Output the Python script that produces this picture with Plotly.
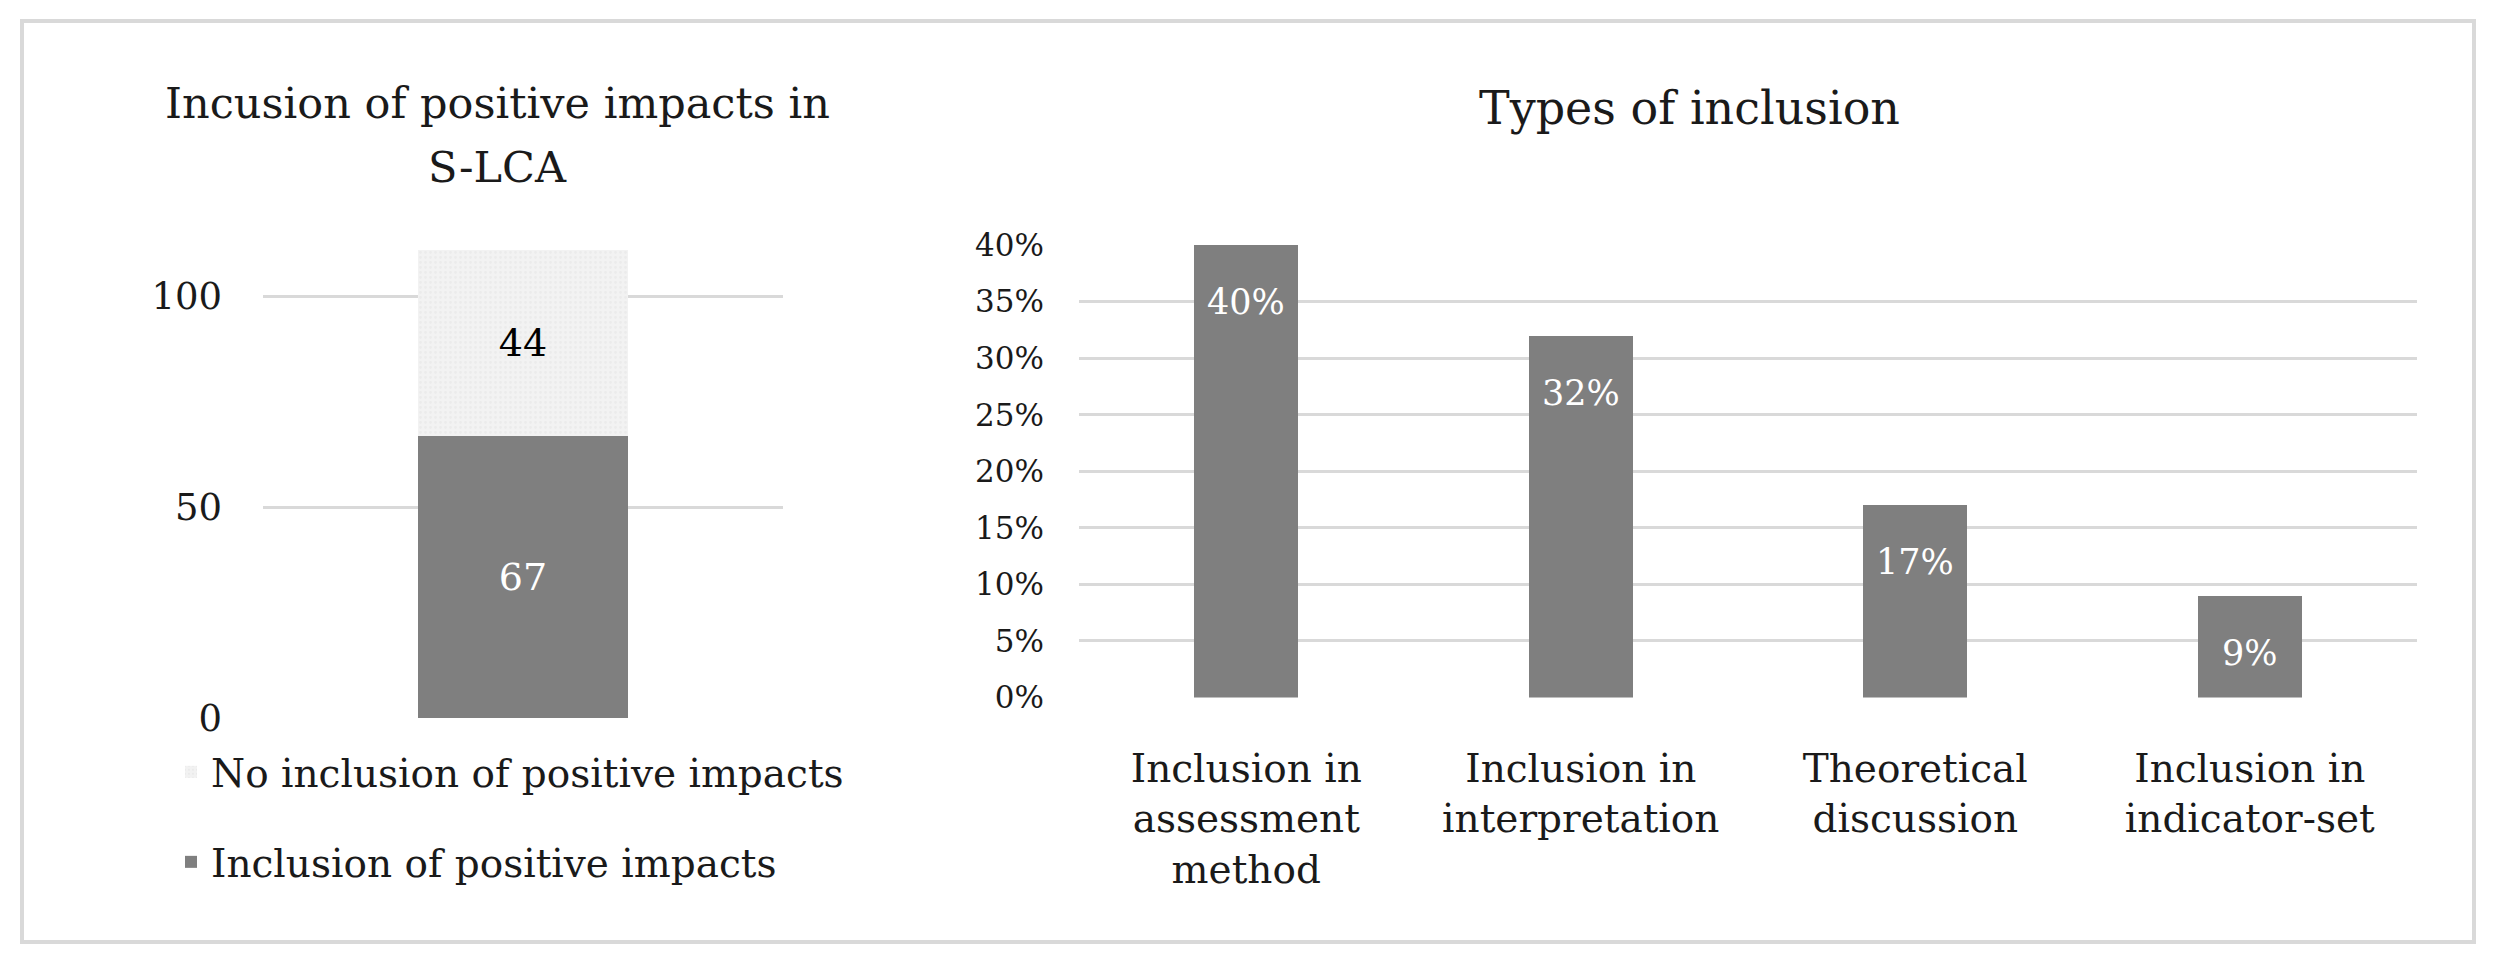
import plotly.graph_objects as go

# ---------------- data ----------------
left_title_lines = ["Incusion of positive impacts in", "S-LCA"]
left_category = ["S-LCA"]
included_values = [67]
not_included_values = [44]
left_series_names = ["Inclusion of positive impacts", "No inclusion of positive impacts"]
left_yticks = [0, 50, 100]

right_title = "Types of inclusion"
type_categories = [
    "Inclusion in assessment method",
    "Inclusion in interpretation",
    "Theoretical discussion",
    "Inclusion in indicator-set",
]
type_ticktext = [
    "Inclusion in<br>assessment<br>method",
    "Inclusion in<br>interpretation",
    "Theoretical<br>discussion",
    "Inclusion in<br>indicator-set",
]
type_shares = [0.40, 0.32, 0.17, 0.09]
type_labels = ["40%", "32%", "17%", "9%"]

# ---------------- style ----------------
W, H = 2496, 966
PAGE_OFFSET = 8  # default body margin of the html page
FONT = "DejaVu Serif"
DARK = "#7f7f7f"
LIGHT = "#f2f2f2"
GRID = "#d9d9d9"
TXT = "#1a1a1a"


def px_x(v):
    return (v - PAGE_OFFSET) / W


def px_y(v):
    return 1 - (v - PAGE_OFFSET) / H


fig = go.Figure()

# left stacked bar
fig.add_trace(go.Bar(
    x=left_category, y=included_values, name=left_series_names[0],
    marker=dict(color=DARK, line=dict(width=0)),
    text=[str(v) for v in included_values], textposition="inside",
    insidetextanchor="middle", textfont=dict(family=FONT, size=38, color="white"),
    width=0.402, xaxis="x", yaxis="y", legend="legend2", hoverinfo="skip",
))
fig.add_trace(go.Bar(
    x=left_category, y=not_included_values, name=left_series_names[1],
    marker=dict(color=LIGHT, line=dict(width=0),
                pattern=dict(shape=".", fgcolor="#e4e4e4", bgcolor=LIGHT, size=5, solidity=0.25)),
    text=[str(v) for v in not_included_values], textposition="inside",
    insidetextanchor="middle", textfont=dict(family=FONT, size=38, color="black"),
    width=0.402, xaxis="x", yaxis="y", legend="legend", hoverinfo="skip",
))

# right bars
fig.add_trace(go.Bar(
    x=type_categories, y=type_shares, marker=dict(color=DARK, line=dict(width=0)),
    width=0.31, xaxis="x2", yaxis="y2", showlegend=False, hoverinfo="skip",
))

annotations = []
for cat, val, lab in zip(type_categories, type_shares, type_labels):
    annotations.append(dict(
        x=cat, y=val, xref="x2", yref="y2", text=lab, showarrow=False,
        yanchor="middle", xanchor="center", yshift=-57,
        font=dict(family=FONT, size=35, color="white"),
    ))

# titles
annotations.append(dict(x=px_x(497), y=px_y(103), xref="paper", yref="paper",
                        text=left_title_lines[0], showarrow=False, xanchor="center",
                        yanchor="middle", font=dict(family=FONT, size=43, color=TXT)))
annotations.append(dict(x=px_x(497), y=px_y(167), xref="paper", yref="paper",
                        text=left_title_lines[1], showarrow=False, xanchor="center",
                        yanchor="middle", font=dict(family=FONT, size=43, color=TXT)))
annotations.append(dict(x=px_x(1689), y=px_y(108), xref="paper", yref="paper",
                        text=right_title, showarrow=False, xanchor="center",
                        yanchor="middle", font=dict(family=FONT, size=46, color=TXT)))

fig.update_layout(
    width=W, height=H,
    margin=dict(l=0, r=0, t=0, b=0, pad=0, autoexpand=False),
    paper_bgcolor="white", plot_bgcolor="white",
    barmode="stack",
    font=dict(family=FONT, color=TXT),
    xaxis=dict(domain=[px_x(263), px_x(783)], showticklabels=False, showgrid=False,
               zeroline=False, showline=False, ticks="", fixedrange=True, automargin=False),
    yaxis=dict(domain=[px_y(718), px_y(250)], range=[0, 111], tickvals=left_yticks,
               showgrid=True, gridcolor=GRID, gridwidth=3, zeroline=False, showline=False,
               ticks="", ticklabelstandoff=40, automargin=False,
               tickfont=dict(family=FONT, size=37, color=TXT)),
    xaxis2=dict(domain=[px_x(1079), px_x(2417)], anchor="y2", showgrid=False, zeroline=False,
                showline=False, ticks="", tickvals=type_categories, ticktext=type_ticktext,
                ticklabelstandoff=44, automargin=False,
                tickfont=dict(family=FONT, size=39, color=TXT)),
    yaxis2=dict(domain=[px_y(697.5), px_y(245)], anchor="x2", range=[0, 0.40], dtick=0.05,
                tickformat=".0%", showgrid=True, gridcolor=GRID, gridwidth=3, zeroline=False,
                showline=False, ticks="", ticklabelstandoff=34, automargin=False,
                tickfont=dict(family=FONT, size=31, color=TXT)),
    legend=dict(x=px_x(171), y=px_y(772), xanchor="left", yanchor="middle",
                font=dict(family=FONT, size=39, color=TXT), bgcolor="rgba(0,0,0,0)"),
    legend2=dict(x=px_x(171), y=px_y(862), xanchor="left", yanchor="middle",
                 font=dict(family=FONT, size=39, color=TXT), bgcolor="rgba(0,0,0,0)"),
    annotations=annotations,
    shapes=[dict(type="rect", xref="paper", yref="paper", x0=px_x(22), x1=px_x(2474),
                 y0=px_y(942), y1=px_y(21), line=dict(color=GRID, width=4),
                 fillcolor="rgba(0,0,0,0)", layer="below")],
)

fig.write_html("out.html")
